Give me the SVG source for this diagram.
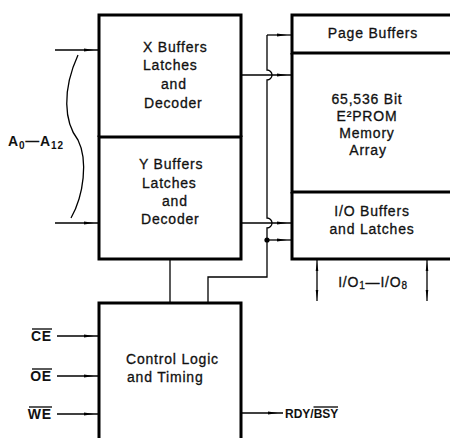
<svg xmlns="http://www.w3.org/2000/svg" width="450" height="438" viewBox="0 0 450 438">
<style>
.box{fill:none;stroke:#000;stroke-width:3}
.ln{fill:none;stroke:#000;stroke-width:1.3}
.t{font-family:"Liberation Sans",Arial,sans-serif;font-size:14px;letter-spacing:0.8px;fill:#111;stroke:#111;stroke-width:0.3}
.c{text-anchor:middle}
.b{font-weight:bold;stroke-width:0}
</style>
<defs>
<marker id="ar" markerWidth="16" markerHeight="4" refX="15" refY="2" orient="auto" markerUnits="userSpaceOnUse">
<path d="M0,0.4 L10,2 L0,3.6 Z" fill="#000"/>
</marker>
</defs>
<rect width="450" height="438" fill="#fff"/>

<g id="x-decoder">
<path class="box" d="M99,137 V15 H241 V137"/>
<text class="t" x="143" y="52">X Buffers</text>
<text class="t" x="143" y="70">Latches</text>
<text class="t" x="161" y="89">and</text>
<text class="t" x="144" y="108">Decoder</text>
</g>

<g id="y-decoder">
<rect class="box" x="99" y="137" width="142" height="122"/>
<text class="t" x="139" y="169">Y Buffers</text>
<text class="t" x="142" y="188">Latches</text>
<text class="t" x="162" y="206">and</text>
<text class="t" x="141" y="224">Decoder</text>
</g>

<g id="page-buffers">
<path class="box" d="M452,15 H292 V53 H452"/>
<text class="t c" x="373" y="38">Page Buffers</text>
</g>

<g id="memory-array">
<path class="box" d="M292,53 V192 H452"/>
<text class="t c" x="367" y="104">65,536 Bit</text>
<text class="t c" x="367" y="121">E²PROM</text>
<text class="t c" x="367" y="138">Memory</text>
<text class="t c" x="368" y="155">Array</text>
</g>

<g id="io-buffers">
<path class="box" d="M292,192 V259 H452"/>
<text class="t c" x="372" y="216">I/O Buffers</text>
<text class="t c" x="372" y="234">and Latches</text>
</g>

<g id="control-logic">
<path class="box" d="M99,450 V303 H241 V450"/>
<text class="t" x="126" y="364">Control Logic</text>
<text class="t" x="127" y="382">and Timing</text>
</g>

<g id="address-label">
<path class="ln" d="M78,55 C62,90 64,122 78,140 C88,160 84,195 71,218"/>
<text class="t b" x="8" y="146">A<tspan font-size="10" dy="3">0</tspan><tspan dy="-3">—A</tspan><tspan font-size="10" dy="3">12</tspan></text>
</g>

<g id="io-label">
<text class="t c" x="373" y="287">I/O<tspan font-size="10" dy="2">1</tspan><tspan dy="-2">—I/O</tspan><tspan font-size="10" dy="2">8</tspan></text>
</g>

<g id="control-labels">
<text class="t b" x="52" y="341" text-anchor="end">CE</text>
<line class="ln" x1="32" y1="329" x2="52" y2="329" stroke-width="1"/>
<text class="t b" x="52" y="381" text-anchor="end">OE</text>
<line class="ln" x1="32" y1="369" x2="52" y2="369" stroke-width="1"/>
<text class="t b" x="52" y="419" text-anchor="end">WE</text>
<line class="ln" x1="29" y1="407" x2="52" y2="407" stroke-width="1"/>
<text class="t b" x="285" y="418" style="font-size:12px;letter-spacing:0">RDY/BSY</text>
<line class="ln" x1="313.5" y1="407" x2="338" y2="407" stroke-width="1"/>
</g>

<g id="connectors">
<line class="ln" x1="55" y1="50" x2="99" y2="50" marker-end="url(#ar)"/>
<line class="ln" x1="55" y1="223" x2="99" y2="223" marker-end="url(#ar)"/>
<line class="ln" x1="57" y1="336" x2="99" y2="336" marker-end="url(#ar)"/>
<line class="ln" x1="57" y1="376" x2="99" y2="376" marker-end="url(#ar)"/>
<line class="ln" x1="57" y1="414" x2="99" y2="414" marker-end="url(#ar)"/>
<line class="ln" x1="241" y1="413" x2="283" y2="413" marker-end="url(#ar)"/>
<line class="ln" x1="267" y1="35" x2="292" y2="35" marker-end="url(#ar)"/>
<line class="ln" x1="241" y1="75" x2="292" y2="75" marker-end="url(#ar)"/>
<line class="ln" x1="241" y1="223" x2="292" y2="223" marker-end="url(#ar)"/>
<line class="ln" x1="267" y1="240" x2="292" y2="240" marker-end="url(#ar)"/>
<path class="ln" d="M267,35 V70 A5,5 0 0 1 267,80 V218 A5,5 0 0 1 267,228 V277 H208 V303"/>
<circle cx="267" cy="240" r="2.6" fill="#000"/>
<line class="ln" x1="170" y1="259" x2="170" y2="303"/>
<line class="ln" x1="317" y1="259" x2="317" y2="301"/>
<line class="ln" x1="427" y1="259" x2="427" y2="301"/>
<path d="M317,262 l-1.3,9 h2.6 Z M317,299 l-1.3,-9 h2.6 Z M427,262 l-1.3,9 h2.6 Z M427,299 l-1.3,-9 h2.6 Z" fill="#000"/>
</g>
</svg>
